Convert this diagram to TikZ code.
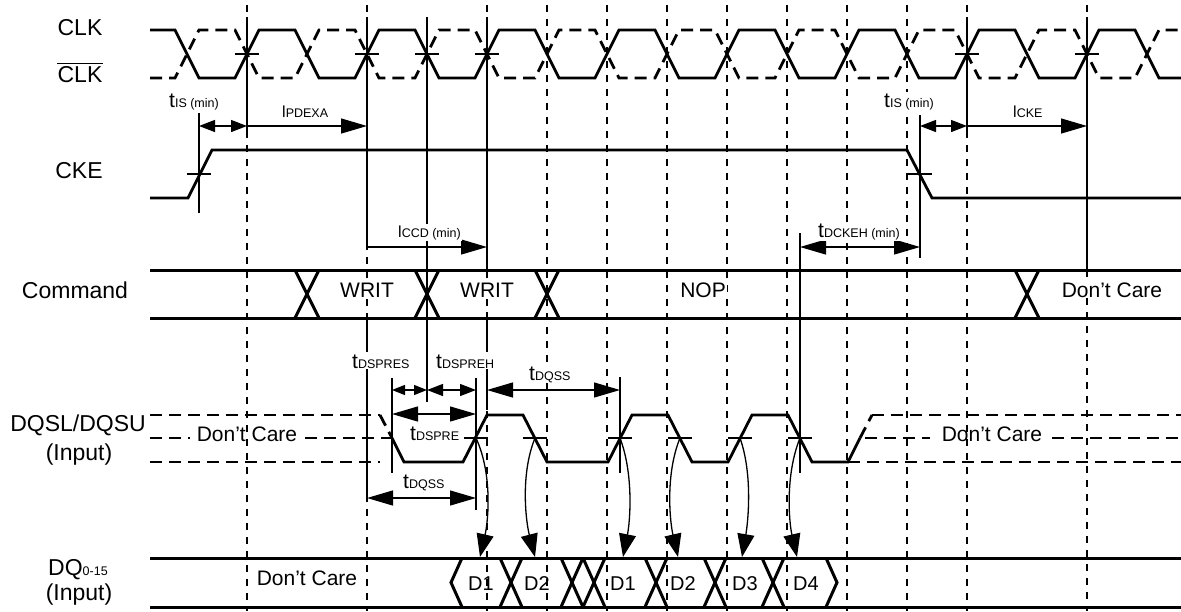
\documentclass[tikz,border=0pt]{standalone}
\usepackage{fontspec}
\setmainfont{Liberation Sans}
\usetikzlibrary{arrows.meta}
\newcommand\siglbl{\fontsize{23}{25}\selectfont}
\newcommand\bandlbl{\fontsize{21}{23}\selectfont}
\newcommand\dlbl{\fontsize{20}{22}\selectfont}
\newcommand\tlab[1]{{\fontsize{21}{21}\selectfont t}{\fontsize{12.5}{13}\selectfont #1}}
\newcommand\llab[1]{{\fontsize{16}{16}\selectfont l}{\fontsize{12.5}{13}\selectfont #1}}
\begin{document}
\begin{tikzpicture}[x=1pt,y=-1pt,
  wave/.style={line width=2.8pt},
  wavedash/.style={line width=2.8pt, dash pattern=on 12pt off 7pt},
  bandline/.style={line width=3pt},
  gridline/.style={line width=1.5pt, dash pattern=on 7pt off 7pt},
  refline/.style={line width=1.4pt},
  tickline/.style={line width=1.1pt},
  dimboth/.style={line width=1.3pt, {Triangle[length=26pt,width=15pt]}-{Triangle[length=26pt,width=15pt]}},
  dimright/.style={line width=1.3pt, -{Triangle[length=26pt,width=15pt]}},
  dimshort/.style={line width=1.3pt, {Triangle[length=16pt,width=12pt]}-{Triangle[length=16pt,width=12pt]}},
  dimtiny/.style={line width=1.3pt, {Triangle[length=13pt,width=10pt]}-{Triangle[length=13pt,width=10pt]}},
  dqarrow/.style={line width=1.3pt, -{Triangle[length=23pt,width=17pt]}},
  lbl/.style={inner sep=0pt, anchor=base},
  bandtxt/.style={inner sep=1pt, anchor=base, fill=white},
  tl/.style={inner sep=1pt, anchor=base west, fill=white},
]
\useasboundingbox (0,0) rectangle (1181,611);

% ---------- dashed clock grid ----------
\foreach \x in {247,367,487,547,607,667,727,787,847,907,967}
  \draw[gridline] (\x,5) -- (\x,611);
\draw[gridline] (1087,5) -- (1087,17);
\draw[gridline] (1087,270) -- (1087,611);

% ---------- solid reference lines ----------
\draw[refline] (199,113) -- (199,213);
\draw[refline] (247,17) -- (247,138);
\draw[refline] (367,17) -- (367,247);
\draw[refline] (367,318) -- (367,352);
\draw[refline] (367,375) -- (367,498);
\draw[refline] (427,17) -- (427,402);
\draw[refline] (487,17) -- (487,270);
\draw[refline] (487,312) -- (487,352);
\draw[refline] (487,375) -- (487,410);
\draw[refline] (392,378) -- (392,473);
\draw[refline] (476,378) -- (476,510);
\draw[refline] (620,377) -- (620,473);
\draw[refline] (800,233) -- (800,473);
\draw[refline] (920,115) -- (920,258);
\draw[refline] (967,17) -- (967,138);
\draw[refline] (1087,17) -- (1087,270);

% ---------- CLK / CLK# ----------
\draw[wave] (150,30) foreach \k in {0,...,7} { -- ({175+120*\k},30) -- ({199+120*\k},78) -- ({235+120*\k},78) -- ({259+120*\k},30) } -- (1135,30) -- (1159,78) -- (1181,78);
\draw[wavedash] (150,78) foreach \k in {0,...,7} { -- ({175+120*\k},78) -- ({199+120*\k},30) -- ({235+120*\k},30) -- ({259+120*\k},78) } -- (1135,78) -- (1159,30) -- (1181,30);
\foreach \x in {247,367,427,487,967,1087}
  \draw[tickline] ({\x-12},54) -- ({\x+12},54);

% ---------- CKE ----------
\draw[wave] (150,198) -- (188,198) -- (212,150) -- (907,150) -- (932,198) -- (1181,198);
\draw[tickline] (187,174) -- (211,174);
\draw[tickline] (908,174) -- (932,174);

% ---------- Command ----------
\draw[bandline] (150,270) -- (1181,270);
\draw[bandline] (150,318) -- (1181,318);
\foreach \c in {307,427,547,1027} {
  \draw[bandline] ({\c-12},270) -- ({\c+12},318);
  \draw[bandline] ({\c+12},270) -- ({\c-12},318);
}

% ---------- DQS ----------
\draw[wavedash] (150,415) -- (380,415);
\draw[wavedash] (150,462) -- (380,462);
\draw[wavedash] (150,438) -- (190,438);
\draw[wavedash] (305,438) -- (392,438);
\draw[wavedash] (380,415) -- (392,438);
\draw[wave] (392,438) -- (404,462) -- (463,462) -- (487,415) -- (523,415) -- (547,462) -- (608,462) -- (632,415) -- (668,415) -- (692,462) -- (728,462) -- (752,415) -- (788,415) -- (812,462) -- (848,462) -- (860,438);
\draw[wavedash] (860,438) -- (872,415);
\draw[wavedash] (872,415) -- (1181,415);
\draw[wavedash] (848,462) -- (1181,462);
\draw[wavedash] (865,438) -- (930,438);
\draw[wavedash] (1052,438) -- (1181,438);
\foreach \x in {476,535,620,680,740,800}
  \draw[tickline] ({\x-12},438) -- ({\x+12},438);

% ---------- DQ ----------
\draw[bandline] (150,558) -- (1181,558);
\draw[bandline] (150,607) -- (1181,607);
\draw[bandline] (462,558) -- (451,582.5) -- (462,607);
\foreach \c in {511,572,594,656,715,773} {
  \draw[bandline] ({\c-11},558) -- ({\c+11},607);
  \draw[bandline] ({\c+11},558) -- ({\c-11},607);
}
\draw[bandline] (826,558) -- (837,582.5) -- (826,607);

% ---------- DQS -> DQ arrows ----------
\coordinate (q1) at (476,438); \coordinate (d1) at (480,557);
\coordinate (q2) at (535,438); \coordinate (d2) at (535,557);
\coordinate (q3) at (620,438); \coordinate (d3) at (623,557);
\coordinate (q4) at (680,438); \coordinate (d4) at (678,557);
\coordinate (q5) at (740,438); \coordinate (d5) at (742,557);
\coordinate (q6) at (800,438); \coordinate (d6) at (797,557);
\draw[dqarrow] (q1) .. controls (493,475) and (488,522) .. (d1);
\draw[dqarrow] (q2) .. controls (520,475) and (526,522) .. (d2);
\draw[dqarrow] (q3) .. controls (634,475) and (630,522) .. (d3);
\draw[dqarrow] (q4) .. controls (665,475) and (670,522) .. (d4);
\draw[dqarrow] (q5) .. controls (753,475) and (748,522) .. (d5);
\draw[dqarrow] (q6) .. controls (785,475) and (789,522) .. (d6);

% ---------- dimension arrows ----------
\coordinate (a1) at (199,126); \coordinate (a2) at (247,126); \coordinate (a3) at (367,126);
\coordinate (b1) at (920,126); \coordinate (b2) at (967,126); \coordinate (b3) at (1087,126);
\coordinate (c1) at (367,247); \coordinate (c2) at (487,247);
\coordinate (e1) at (800,247); \coordinate (e2) at (920,247);
\coordinate (f1) at (392,390); \coordinate (f2) at (427,390); \coordinate (f3) at (476,390);
\coordinate (g1) at (487,390); \coordinate (g2) at (620,390);
\coordinate (h1) at (392,414); \coordinate (h2) at (476,414);
\coordinate (k1) at (367,498); \coordinate (k2) at (476,498);
\draw[dimshort] (a1) -- (a2);
\draw[dimright] (a2) -- (a3);
\draw[dimshort] (b1) -- (b2);
\draw[dimright] (b2) -- (b3);
\draw[dimright] (c1) -- (c2);
\draw[dimboth] (e1) -- (e2);
\draw[dimtiny] (f1) -- (f2);
\draw[dimshort] (f2) -- (f3);
\draw[dimboth] (g1) -- (g2);
\draw[dimboth] (h1) -- (h2);
\draw[dimboth] (k1) -- (k2);

% ---------- timing labels ----------
\node[tl] (tis1) at (168,107) {\tlab{IS (min)}};
\node[tl] (tpdexa) at (281,117) {\llab{PDEXA}};
\node[tl] (tis2) at (883,107) {\tlab{IS (min)}};
\node[tl] (tcke) at (1012,117) {\llab{CKE}};
\node[tl] (tccd) at (397,237) {\llab{CCD (min)}};
\node[tl] (tdckeh) at (817,237) {\tlab{DCKEH (min)}};
\node[tl] (tdspres) at (351,368) {\tlab{DSPRES}};
\node[tl] (tdspreh) at (435,368) {\tlab{DSPREH}};
\node[tl] (tdqss1) at (528,380) {\tlab{DQSS}};
\node[tl] (tdspre) at (409,440) {\tlab{DSPRE}};
\node[tl] (tdqss2) at (402,488) {\tlab{DQSS}};

% ---------- signal labels ----------
\node[lbl] (clk) at (80,35) {\siglbl CLK};
\node[lbl] (clkb) at (80,82) {\siglbl CLK};
\draw[line width=1.2pt] ([yshift=2.5pt]clkb.north west) -- ([yshift=2.5pt]clkb.north east);
\node[lbl] (cke) at (79,178) {\siglbl CKE};
\node[lbl] (cmd) at (75,298) {\siglbl Command};
\node[lbl] (dqs) at (78,431) {\siglbl DQSL/DQSU};
\node[lbl] (dqsin) at (79,460) {\siglbl (Input)};
\node[inner sep=0pt, anchor=base west] (dq) at (48,575) {{\siglbl DQ}{\fontsize{12.5}{13}\selectfont 0-15}};
\node[lbl] (dqin) at (79,600) {\siglbl (Input)};

% ---------- band texts ----------
\node[bandtxt] (w1) at (367,297) {\bandlbl WRIT};
\node[bandtxt] (w2) at (487,297) {\bandlbl WRIT};
\node[bandtxt] (nop) at (703,297) {\bandlbl NOP};
\node[bandtxt] (dc1) at (1112,297) {\bandlbl Don’t Care};
\node[lbl] (dc2) at (247,441) {\bandlbl Don’t Care};
\node[lbl] (dc3) at (992,441) {\bandlbl Don’t Care};
\node[lbl] (dc4) at (307,585) {\bandlbl Don’t Care};
\node[lbl] (x1) at (481,590) {\dlbl D1};
\node[lbl] (x2) at (537,590) {\dlbl D2};
\node[lbl] (x3) at (623,590) {\dlbl D1};
\node[lbl] (x4) at (683,590) {\dlbl D2};
\node[lbl] (x5) at (745,590) {\dlbl D3};
\node[lbl] (x6) at (806,590) {\dlbl D4};
\end{tikzpicture}
\end{document}
